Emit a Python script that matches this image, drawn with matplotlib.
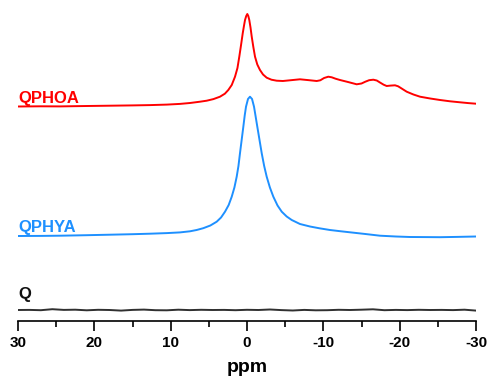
import matplotlib
matplotlib.use("Agg")
import matplotlib.pyplot as plt
from matplotlib.ticker import MultipleLocator

plt.rcParams['font.family'] = ['Liberation Sans', 'DejaVu Sans']

# ---- data ----
ppm_qphoa = [30.0, 27.0, 24.5, 21.0, 17.95, 15.0, 12.7, 10.5, 8.78, 7.47, 6.16, 5.28,
             4.4, 3.54, 2.9, 2.45, 2.0, 1.57, 1.25, 1.01, 0.78, 0.56, 0.4, 0.26, 0.1,
             -0.04, -0.17, -0.30, -0.46, -0.62, -0.83, -1.05, -1.35, -1.70, -2.1,
             -2.58, -3.2, -3.89, -4.7, -5.63, -6.94, -8.0, -9.13, -9.6, -10.1, -10.65,
             -11.1, -11.6, -12.18, -13.23, -14.37, -15.0, -15.5, -16.0, -16.55, -17.0,
             -17.42, -17.9, -18.30, -18.8, -19.39, -19.8, -20.3, -20.92, -21.8, -22.67,
             -24.0, -25.29, -26.6, -27.91, -29.0, -30.0]
int_qphoa = [0.0, 0.2, 0.1, 0.5, 0.8, 1.1, 1.4, 1.9, 2.6, 3.5, 4.8, 5.8,
             7.4, 9.8, 12.8, 16.5, 21.5, 29.8, 38.5, 49.8, 61.5, 73.2, 80.5, 86.5, 90.5,
             92.5, 90.5, 86.5, 79.0, 69.8, 59.5, 49.8, 42.0, 36.5, 32.0,
             28.8, 26.8, 25.8, 25.5, 26.2, 27.2, 26.4, 25.5, 26.2, 28.5, 29.8,
             29.2, 27.8, 26.5, 24.5, 22.2, 23.0, 24.8, 26.3, 26.8, 26.0,
             24.0, 21.8, 20.5, 20.9, 21.2, 20.2, 17.8, 14.8, 12.0, 9.8,
             8.0, 6.5, 5.2, 4.2, 3.4, 2.8]

ppm_qphya = [30.0, 27.0, 24.5, 21.0, 17.95, 15.0, 12.71, 10.5, 8.78, 7.47, 6.6, 5.73, 4.8,
             3.97, 3.4, 2.88, 2.4, 2.00, 1.65, 1.35, 1.12, 0.92, 0.7, 0.48, 0.3, 0.13,
             -0.13, -0.39, -0.66, -0.92, -1.12, -1.35, -1.64, -1.93, -2.25, -2.58,
             -3.0, -3.45, -4.0, -4.55, -5.2, -5.86, -6.94, -8.25, -9.5, -10.87, -12.2,
             -13.49, -15.5, -17.42, -19.5, -21.35, -23.5, -25.28, -27.5, -30.0]
int_qphya = [0.5, 0.6, 0.8, 1.3, 1.8, 2.3, 2.8, 3.4, 4.1, 5.2, 6.5, 8.3, 11.0,
             14.8, 19.0, 24.8, 31.5, 39.8, 49.0, 59.8, 70.5, 83.2, 96.5, 109.8, 121.0, 129.8,
             137.5, 139.8, 137.5, 129.8, 120.5, 109.8, 96.5, 83.2, 70.5, 59.8,
             49.0, 39.8, 31.0, 24.8, 20.0, 16.5, 12.5, 10.0, 8.2, 6.5, 5.3,
             4.2, 2.5, 0.8, 0.0, -0.5, -0.6, -0.7, -0.4, 0.0]

ppm_q = [30.0, 28.5, 27.0, 25.5, 24.0, 22.5, 21.0, 19.5, 18.0, 16.5, 15.0, 13.5, 12.0,
         10.5, 9.0, 7.5, 6.0, 4.5, 3.0, 1.5, 0.0, -1.5, -3.0, -4.5, -6.0, -7.5, -9.0,
         -10.5, -12.0, -13.5, -15.0, -16.5, -18.0, -19.5, -21.0, -22.5, -24.0, -25.5,
         -27.0, -28.5, -30.0]
int_q = [0.0, 0.1, -0.2, 0.8, 0.1, 0.3, -0.3, 0.2, 0.0, -0.6, 0.1, 0.4, -0.2,
         -0.3, 0.3, -0.1, 0.2, 0.0, 0.1, -0.2, 0.2, 0.0, 0.5, -0.1, -0.5, 0.1, -0.3,
         -0.2, 0.2, 0.0, 0.3, 0.7, -0.2, 0.1, -0.1, 0.2, 0.0, 0.1, -0.1, 0.3, -0.6]

labels = ['QPHOA', 'QPHYA', 'Q']
colors = ['#FF0000', '#1E90FF', '#303030']
label_colors = ['#FF0000', '#1E90FF', '#111111']
offsets = [214.5, 84.5, 11.0]
label_y = [218.0, 89.0, 22.0]

xticks = [30, 20, 10, 0, -10, -20, -30]

# ---- figure ----
fig = plt.figure(figsize=(4.87, 3.83), dpi=100)
ax = fig.add_axes([18 / 487, 62 / 383, 458 / 487, 316 / 383])

series = [(ppm_qphoa, int_qphoa), (ppm_qphya, int_qphya), (ppm_q, int_q)]
for (xs, ys), lab, col, lcol, off, ly in zip(series, labels, colors, label_colors,
                                            offsets, label_y):
    ax.plot(xs, [v + off for v in ys], color=col, lw=1.4, solid_joinstyle='round')
    ax.text(30, ly, lab, color=lcol, fontsize=12, fontweight='bold',
            ha='left', va='baseline')

ax.set_xlim(30, -30)
ax.set_ylim(0, 316)
ax.set_xticks(xticks)
ax.set_xticklabels([str(t) for t in xticks], fontsize=11, fontweight='bold')
ax.xaxis.set_minor_locator(MultipleLocator(5))
ax.tick_params(axis='x', which='major', direction='out', length=7, width=1.2, pad=4)
ax.tick_params(axis='x', which='minor', direction='out', length=4, width=1.2)
ax.set_yticks([])
for s in ['top', 'left', 'right']:
    ax.spines[s].set_visible(False)
ax.spines['bottom'].set_linewidth(1.2)
ax.set_xlabel('ppm', fontsize=14, fontweight='bold', labelpad=6)

fig.savefig('out.png', dpi=100)
